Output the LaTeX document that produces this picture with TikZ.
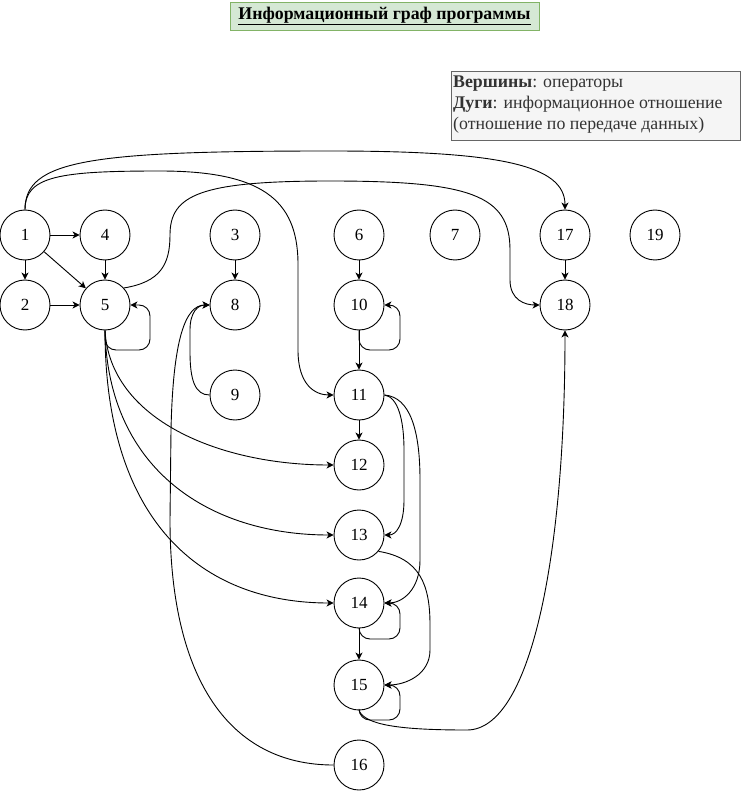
\documentclass[tikz,border=0pt]{standalone}
\usepackage{fontspec}
\setmainfont{Liberation Serif}
\usetikzlibrary{arrows.meta}
\definecolor{titlefill}{HTML}{D5E8D4}
\definecolor{titledraw}{HTML}{82B366}
\definecolor{legfill}{HTML}{F5F5F5}
\definecolor{legdraw}{HTML}{666666}
\definecolor{legtext}{HTML}{333333}
\tikzset{
  vert/.style={circle,draw,line width=0.9pt,minimum size=50pt,inner sep=0pt,font=\fontsize{17}{19}\selectfont},
  edge/.style={line width=0.9pt,-{Stealth[length=7pt,width=7pt,inset=2pt]}},
  loopedge/.style={edge,rounded corners=11pt}
}
\begin{document}
\begin{tikzpicture}[x=1pt,y=-1pt]
\useasboundingbox (0,0) rectangle (741,791);
% title
\node[draw=titledraw,fill=titlefill,line width=0.9pt,minimum width=309pt,minimum height=28pt,inner sep=0pt,font=\fontsize{17.8}{20}\selectfont\bfseries] (title) at (384.5,16) {\underline{Информационный граф программы}};
% legend
\node[draw=legdraw,fill=legfill,line width=0.9pt,minimum width=289pt,minimum height=69pt,inner sep=0pt] (legbox) at (595.5,105.5) {};
\node[anchor=west,inner sep=0pt,align=left,text=legtext,font=\fontsize{17.8}{21}\selectfont] (legend) at (453,105) {\textbf{Вершины}: операторы\\\textbf{Дуги}: информационное отношение\\(отношение по передаче данных)};
% vertices
\node[vert] (1) at (25,235) {1};
\node[vert] (4) at (105,235) {4};
\node[vert] (3) at (235,235) {3};
\node[vert] (6) at (359,235) {6};
\node[vert] (7) at (455,235) {7};
\node[vert] (17) at (565,235) {17};
\node[vert] (19) at (655,235) {19};
\node[vert] (2) at (25,305) {2};
\node[vert] (5) at (105,305) {5};
\node[vert] (8) at (235,305) {8};
\node[vert] (10) at (359,305) {10};
\node[vert] (18) at (565,305) {18};
\node[vert] (9) at (235,395) {9};
\node[vert] (11) at (359,395) {11};
\node[vert] (12) at (359,465) {12};
\node[vert] (13) at (359,535) {13};
\node[vert] (14) at (359,603) {14};
\node[vert] (15) at (359,685) {15};
\node[vert] (16) at (359,765) {16};
% straight edges
\draw[edge] (1) -- (4);
\draw[edge] (1) -- (2);
\draw[edge] (1) -- (5);
\draw[edge] (4) -- (5);
\draw[edge] (2) -- (5);
\draw[edge] (3) -- (8);
\draw[edge] (6) -- (10);
\draw[edge] (17) -- (18);
\draw[edge] (10) -- (11);
\draw[edge] (11) -- (12);
\draw[edge] (14) -- (15);
% self loops
\draw[loopedge] (5.south) -- (105,350) -- (150,350) -- (150,305) -- (5.east);
\draw[loopedge] (10.south) -- (359,350) -- (400,350) -- (400,305) -- (10.east);
\draw[loopedge] (14.south) -- (359,639) -- (400,639) -- (400,603) -- (14.east);
\draw[loopedge] (15.south) -- (359,720) -- (400,720) -- (400,685) -- (15.east);
% long curved edges
\draw[edge] (1.north) .. controls (25,160) and (90,151) .. (330,151) .. controls (500,151) and (565,165) .. (17.north);
\draw[edge] (1.north) .. controls (25,176) and (60,171) .. (160,171) .. controls (262,171) and (297,200) .. (298,262) -- (298,350) .. controls (298,385) and (315,395) .. (11.west);
\draw[edge] (5.42) .. controls (160,282) and (170,265) .. (170,235) .. controls (170,195) and (200,181) .. (330,181) .. controls (470,181) and (510,195) .. (510,250) -- (510,280) .. controls (510,300) and (525,305) .. (18.west);
\draw[edge] (5.south) .. controls (110,420) and (220,465) .. (12.west);
\draw[edge] (5.south) .. controls (108,470) and (210,535) .. (13.west);
\draw[edge] (5.south) .. controls (105,520) and (200,603) .. (14.west);
\draw[edge] (9.west) .. controls (195,395) and (190,380) .. (190,352) -- (190,330) .. controls (190,312) and (198,305) .. (8.west);
\draw[edge] (16.west) .. controls (230,765) and (170,680) .. (170,520) -- (171,430) .. controls (173,340) and (185,305) .. (8.west);
\draw[edge] (11.east) .. controls (398,397) and (404,420) .. (404,450) -- (404,500) .. controls (404,525) and (396,535) .. (13.east);
\draw[edge] (11.east) .. controls (410,397) and (420,430) .. (420,480) -- (420,560) .. controls (420,590) and (402,603) .. (14.east);
\draw[edge] (13.-40) .. controls (420,558) and (430,585) .. (430,625) -- (430,650) .. controls (430,675) and (405,685) .. (15.east);
\draw[edge] (15.south) .. controls (365,725) and (400,730) .. (467,730) .. controls (530,730) and (565,560) .. (18.south);
\end{tikzpicture}
\end{document}
